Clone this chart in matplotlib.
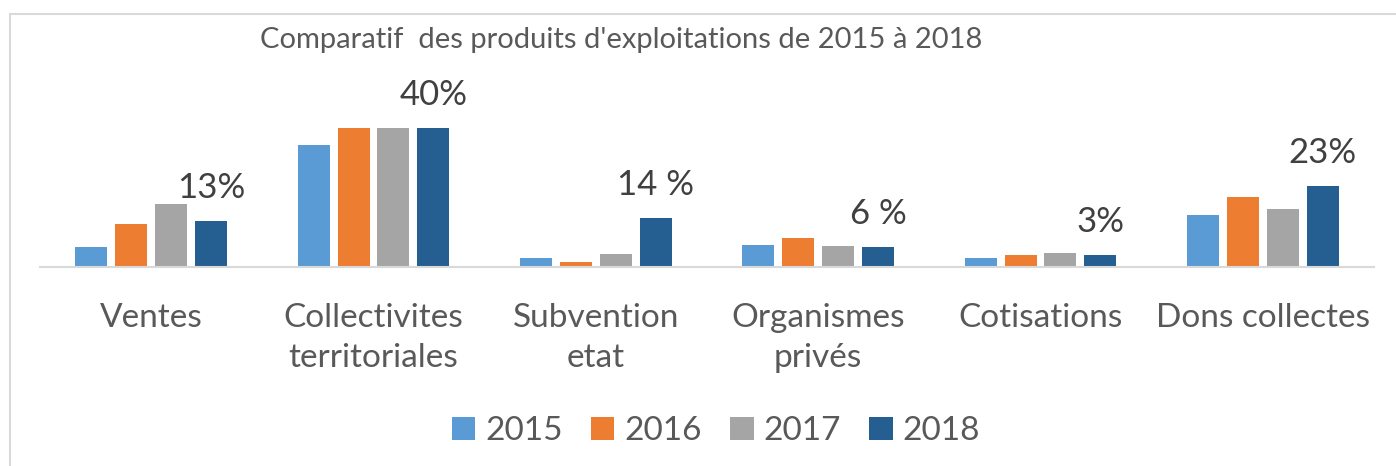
import matplotlib
matplotlib.use('Agg')
from matplotlib import pyplot as plt
from matplotlib.patches import Rectangle
import numpy as np

categories = ['Ventes', 'Collectivites\nterritoriales', 'Subvention\netat',
              'Organismes\nprivés', 'Cotisations', 'Dons collectes']
years = ['2015', '2016', '2017', '2018']
values_2015 = [5.8, 35.2, 2.7, 6.4, 2.5, 14.9]
values_2016 = [12.3, 40.0, 1.4, 8.3, 3.4, 20.1]
values_2017 = [18.2, 40.0, 3.8, 6.1, 3.9, 16.7]
values_2018 = [13.2, 40.0, 14.1, 5.8, 3.4, 23.3]
labels_2018 = ['13%', '40%', '14 %', '6 %', '3%', '23%']

COLORS = ['#5B9BD5', '#ED7D31', '#A5A5A5', '#255E91']
FONT = 'Lato'

W, H = 1396, 466
fig = plt.figure(figsize=(W / 100, H / 100), dpi=100)

# plot area in pixels: baseline at y=267, top at y=70
ax_left, ax_right = 40, 1374
ax_bottom, ax_top = 267, 70
ax = fig.add_axes([ax_left / W, 1 - ax_bottom / H,
                   (ax_right - ax_left) / W, (ax_bottom - ax_top) / H])

series = [values_2015, values_2016, values_2017, values_2018]
x = np.arange(len(categories))
step = 40 / 222.4
width = 32 / 222.4
for i, vals in enumerate(series):
    offs = (i - 1.5) * step
    ax.bar(x + offs, vals, width, color=COLORS[i], label=years[i])

# labels over the 2018 bars
for xi, v, lab in zip(x, values_2018, labels_2018):
    ax.annotate(lab, (xi + 1.5 * step, v), xytext=(0, 24),
                textcoords='offset points', ha='center', va='center',
                fontsize=25, color='#404040', family=FONT)

ax.set_xlim(-0.5, len(categories) - 0.5)
ax.set_ylim(0, 40 * (ax_bottom - ax_top) / 139)
ax.set_yticks([])
ax.set_xticks(x)
ax.set_xticklabels(categories, fontsize=24, color='#595959', family=FONT,
                   linespacing=1.42)
ax.tick_params(axis='x', length=0, pad=26)
for side in ['top', 'left', 'right']:
    ax.spines[side].set_visible(False)
ax.spines['bottom'].set_color('#D9D9D9')
ax.spines['bottom'].set_linewidth(1.5)

fig.text(621 / W, 1 - 40 / H, "Comparatif  des produits d'exploitations de 2015 à 2018",
         ha='center', va='center', fontsize=21, color='#595959', family=FONT)

handles, labs = ax.get_legend_handles_labels()
leg = fig.legend(handles, labs, loc='center', bbox_to_anchor=(716 / W, 1 - 431 / H),
                 ncol=4, frameon=False, handlelength=0.7, handleheight=0.7,
                 handletextpad=0.3, columnspacing=0.85,
                 prop={'family': FONT, 'size': 24})
for t in leg.get_texts():
    t.set_color('#595959')

# chart border (only left and top edges visible in the crop)
fig.patches.append(Rectangle((10 / W, -0.1), 2, 1 - 14 / H + 0.1,
                             transform=fig.transFigure, fill=False,
                             edgecolor='#D9D9D9', linewidth=1.5))

fig.savefig('out.png', dpi=100)
